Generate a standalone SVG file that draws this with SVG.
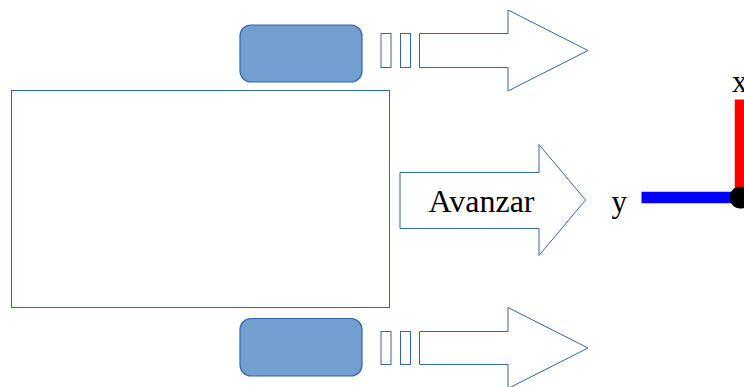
<svg xmlns="http://www.w3.org/2000/svg" width="744" height="387" viewBox="0 0 744 387">
<style>
.o{fill:#ffffff;stroke:#3465a4;stroke-width:1}
.w{fill:#729fcf;stroke:#3465a4;stroke-width:1.2}
.t{font-family:"Liberation Serif",serif;font-size:31px;fill:#000}
</style>
<rect width="744" height="387" fill="#fff"/>
<g id="body"><rect class="o" x="11.5" y="90.5" width="378" height="217"/></g>
<g id="wheel-top"><rect class="w" x="240" y="25" width="122" height="57" rx="11"/></g>
<g id="wheel-bottom"><rect class="w" x="240" y="318.5" width="122" height="57.5" rx="11"/></g>
<g id="arrow-top">
<rect class="o" x="381" y="33.5" width="10" height="34"/>
<rect class="o" x="400.5" y="33.5" width="10" height="34"/>
<polygon class="o" points="419.5,33.5 508,33.5 508,10 588,50.5 508,91 508,67.5 419.5,67.5"/>
</g>
<g id="arrow-bottom">
<rect class="o" x="381" y="331.5" width="10" height="33"/>
<rect class="o" x="400.5" y="331.5" width="10" height="33"/>
<polygon class="o" points="419.5,331.5 508,331.5 508,307.5 588,348 508,388.5 508,364.5 419.5,364.5"/>
</g>
<g id="arrow-avanzar">
<polygon class="o" points="400,172.5 539,172.5 539,144.5 585.5,200 539,255.5 539,228.5 400,228.5"/>
<text class="t" x="428.5" y="212" style="font-size:32px">Avanzar</text>
</g>
<g id="axes">
<line x1="740.5" y1="99.5" x2="740.5" y2="197" stroke="#ff0000" stroke-width="11.5"/>
<line x1="641.5" y1="197.5" x2="740" y2="197.5" stroke="#0000ff" stroke-width="11.5"/>
<circle cx="740.5" cy="197.5" r="11" fill="#000"/>
<text class="t" x="611.5" y="212">y</text>
<text class="t" x="732" y="92">x</text>
</g>
</svg>
